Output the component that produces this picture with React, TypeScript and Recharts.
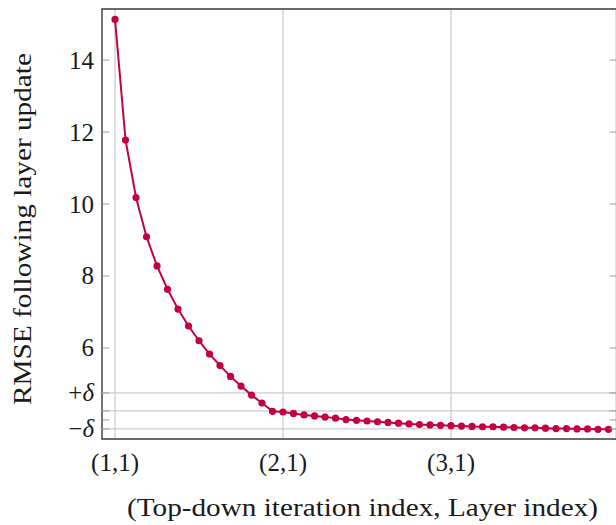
import React from 'react';
import {
  LineChart,
  Line,
  XAxis,
  YAxis,
  CartesianGrid,
  ReferenceLine,
  ReferenceArea,
} from 'recharts';

// RMSE after each layer update, 16 layers per top-down iteration
const rmse = [
  15.13, 11.78, 10.18, 9.09, 8.28, 7.63, 7.08, 6.61, 6.2, 5.83, 5.51, 5.21, 4.94, 4.69, 4.47, 4.24,
  4.22, 4.18, 4.14, 4.11, 4.08, 4.05, 4.01, 3.99, 3.97, 3.95, 3.93, 3.91, 3.89, 3.87, 3.86, 3.85,
  3.84, 3.83, 3.82, 3.81, 3.81, 3.8, 3.79, 3.78, 3.78, 3.77, 3.76, 3.76, 3.75, 3.75, 3.74, 3.74,
];
const layersPerIteration = 16;
const iterationLabels = ['(1,1)', '(2,1)', '(3,1)'];

const yTicks = [3.75, 4, 4.25, 4.75, 6, 8, 10, 12, 14];
const yTickLabels: Record<string, string> = { '6': '6', '8': '8', '10': '10', '12': '12', '14': '14' };
const target = 4.25;
const delta = 0.5;
const bandLines = [target - delta, target, target + delta];

const xDomain: [number, number] = [-1.24, 47.76];
const yDomain: [number, number] = [3.47, 15.42];

const data = rmse.map((v, i) => ({ idx: i, rmse: v }));
const xTicks = iterationLabels.map((_, i) => i * layersPerIteration);

const PLOT_LEFT = 102;
const PLOT_TOP = 9;
const PLOT_RIGHT = 616.5;
const PLOT_BOTTOM = 439;
const CHART_W = 620;
const CHART_H = 525;

const textStyle: React.CSSProperties = {
  fontFamily: "'Times New Roman', 'Liberation Serif', Times, serif",
  fontSize: 25,
  fill: '#1a1a1a',
};
const LINE_COLOR = '#c4003f';
const GRID = '#bdbdbd';
const TICK = '#9a9a9a';
const FRAME = '#3a3a3a';

const renderYTick = (props: any) => {
  const { y, payload } = props;
  const v = payload.value;
  let label: React.ReactNode = yTickLabels[String(v)] ?? null;
  if (Math.abs(v - (target + delta)) < 1e-6) {
    label = (
      <>
        +<tspan style={{ fontStyle: 'italic' }}>δ</tspan>
      </>
    );
  } else if (Math.abs(v - (target - delta)) < 1e-6) {
    label = (
      <>
        −<tspan style={{ fontStyle: 'italic' }}>δ</tspan>
      </>
    );
  }
  return (
    <g key={`yt-${v}`}>
      <line x1={PLOT_LEFT} x2={PLOT_LEFT + 7} y1={y} y2={y} stroke={TICK} strokeWidth={1} />
      <line x1={PLOT_RIGHT - 7} x2={PLOT_RIGHT} y1={y} y2={y} stroke={TICK} strokeWidth={1} />
      {label && (
        <text x={PLOT_LEFT - 8} y={y} dy="0.34em" textAnchor="end" style={textStyle}>
          {label}
        </text>
      )}
    </g>
  );
};

const renderXTick = (props: any) => {
  const { x, payload } = props;
  const i = Math.round(payload.value / layersPerIteration);
  return (
    <text key={`xt-${i}`} x={x} y={471} textAnchor="middle" style={textStyle}>
      {iterationLabels[i]}
    </text>
  );
};

const renderXTitle = () => (
  <text
    x={362.5}
    y={516}
    textAnchor="middle"
    style={textStyle}
    textLength={471}
    lengthAdjust="spacingAndGlyphs"
  >
    (Top-down iteration index, Layer index)
  </text>
);

const renderYTitle = () => (
  <text
    x={0}
    y={0}
    transform="translate(31, 229) rotate(-90)"
    textAnchor="middle"
    style={textStyle}
    textLength={352}
    lengthAdjust="spacingAndGlyphs"
  >
    RMSE following layer update
  </text>
);

export default function App() {
  return (
    <div style={{ position: 'absolute', left: 0, top: 0, width: 616, height: CHART_H, overflow: 'hidden', background: '#fff' }}>
      <LineChart
        width={CHART_W}
        height={CHART_H}
        data={data}
        margin={{ top: PLOT_TOP, left: 0, right: CHART_W - PLOT_RIGHT, bottom: 0 }}
      >
        <CartesianGrid horizontal={false} stroke={GRID} strokeWidth={1} />
        <XAxis
          dataKey="idx"
          type="number"
          domain={xDomain}
          ticks={xTicks}
          interval={0}
          height={CHART_H - PLOT_BOTTOM}
          axisLine={false}
          tickLine={false}
          tick={renderXTick}
          allowDataOverflow
          label={{ content: renderXTitle }}
        />
        <YAxis
          type="number"
          domain={yDomain}
          ticks={yTicks}
          interval={0}
          width={PLOT_LEFT}
          axisLine={false}
          tickLine={false}
          tick={renderYTick}
          allowDataOverflow
          label={{ content: renderYTitle }}
        />
        {bandLines.map((v) => (
          <ReferenceLine key={v} y={v} stroke={GRID} strokeWidth={1} />
        ))}
        <ReferenceArea
          x1={xDomain[0]}
          x2={xDomain[1]}
          y1={yDomain[0]}
          y2={yDomain[1]}
          fill="none"
          stroke={FRAME}
          strokeWidth={1.3}
        />
        <Line
          type="linear"
          dataKey="rmse"
          stroke={LINE_COLOR}
          strokeWidth={2}
          dot={{ r: 3.6, fill: LINE_COLOR, stroke: LINE_COLOR, strokeWidth: 0 }}
          isAnimationActive={false}
        />
      </LineChart>
    </div>
  );
}
